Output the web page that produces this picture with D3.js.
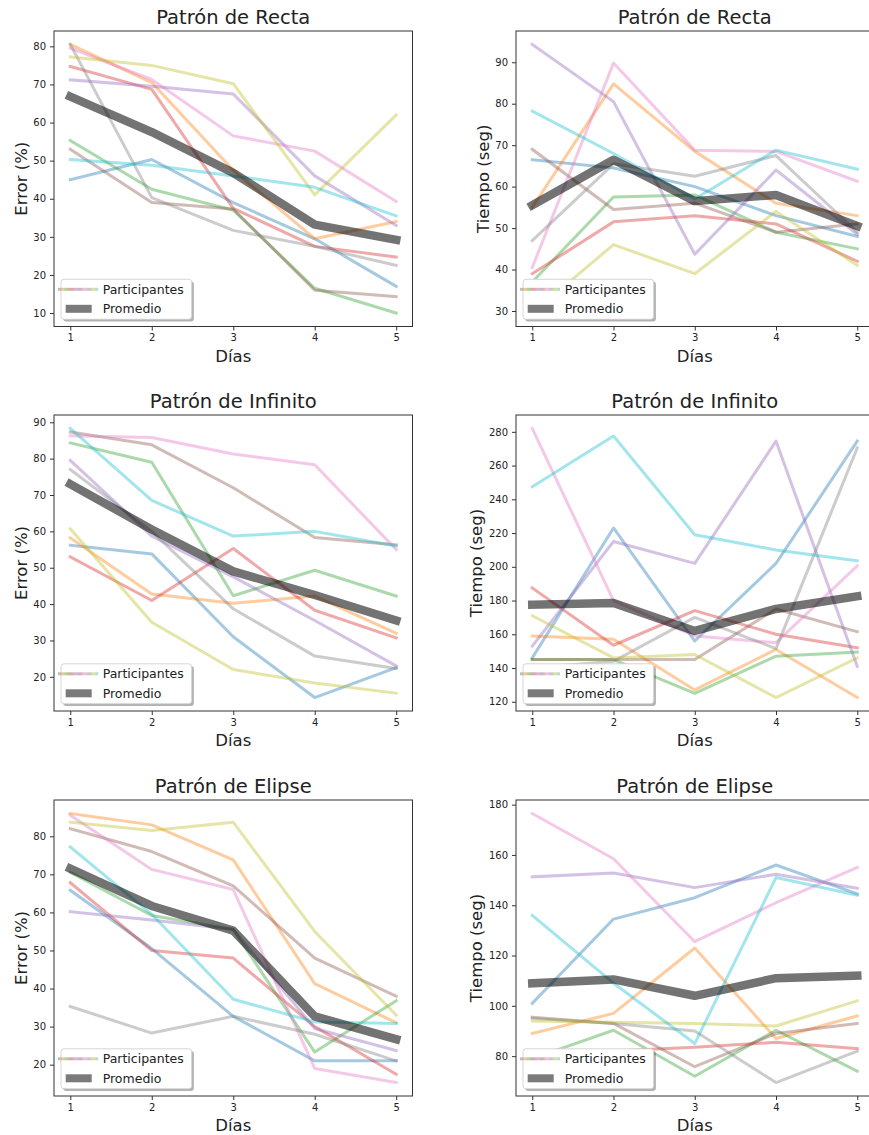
<!DOCTYPE html>
<html>
<head>
<meta charset="utf-8">
<script src="https://cdn.jsdelivr.net/npm/d3@7"></script>
<style>
body { margin: 0; background: #fff; }
svg { display: block; font-family: "DejaVu Sans", sans-serif; }
</style>
</head>
<body>
<div id="chart"></div>
<script>
// days on the x axis
const dias = [1, 2, 3, 4, 5];

// one row per participant (10)
const rectaError = [
  [45, 50.3, 39, 29.5, 17],
  [80.5, 70.5, 47.5, 29.5, 34],
  [55.3, 42.5, 37, 16.5, 10],
  [74.7, 68.7, 37.5, 27.5, 24.7],
  [71.2, 69.5, 67.5, 46, 33],
  [53, 39, 37.3, 16, 14.3],
  [79.5, 71.3, 56.5, 52.5, 39.3],
  [80.5, 40.3, 31.7, 27.5, 22.5],
  [77.2, 75, 70.2, 41, 62],
  [50.3, 48.8, 46, 43, 35.5]
];
const rectaErrorProm = [66.8, 57.5, 46.8, 33.2, 29.2];
const rectaErrorTicks = [10, 20, 30, 40, 50, 60, 70, 80];

const rectaTiempo = [
  [66.5, 64.5, 60, 53, 48],
  [55, 84.8, 68.5, 56, 53],
  [37, 57.5, 58, 49, 45],
  [39, 51.5, 53, 51, 42],
  [94.3, 80.5, 43.7, 64, 48.5],
  [69, 54.5, 56, 49, 51],
  [40.5, 89.8, 68.8, 68.5, 61.3],
  [47, 65.5, 62.5, 67.5, 49],
  [29.5, 46, 39, 54, 41],
  [78.2, 68, 57, 68.8, 64.2]
];
const rectaTiempoProm = [55.5, 66.5, 56.5, 58, 50.5];
const rectaTiempoTicks = [30, 40, 50, 60, 70, 80, 90];

const infinitoError = [
  [56.2, 53.8, 31, 14.3, 22.5],
  [58.2, 42.8, 40.2, 42.2, 32],
  [84.3, 79, 42.3, 49.3, 42.2],
  [53, 41, 55.3, 38.3, 30.7],
  [79.5, 58.7, 47.5, 35.5, 23],
  [87.3, 83.8, 72, 58.3, 56.3],
  [86.3, 85.8, 81.3, 78.3, 55],
  [77, 60, 38.7, 25.7, 22.3],
  [60.7, 35, 22, 18.3, 15.5],
  [88.3, 68.5, 58.7, 60, 56]
];
const infinitoErrorProm = [73, 60.5, 49, 42.5, 35.5];
const infinitoErrorTicks = [20, 30, 40, 50, 60, 70, 80, 90];

const infinitoTiempo = [
  [146, 223, 156, 202, 274.5],
  [159, 157, 127, 151, 122.5],
  [145, 145, 125, 147, 149.5],
  [187.5, 153.5, 174, 160, 152],
  [153, 215, 202, 274.5, 141],
  [145, 145, 145, 175, 161.5],
  [282, 180, 159, 155, 200.5],
  [140, 144, 170, 151.5, 270.5],
  [171, 146, 148, 122.5, 146],
  [247.5, 277.5, 219, 210, 203.5]
];
const infinitoTiempoProm = [177.5, 178.5, 162, 175, 182.5];
const infinitoTiempoTicks = [120, 140, 160, 180, 200, 220, 240, 260, 280];

const elipseError = [
  [65.8, 50.5, 32.7, 21, 21],
  [86, 83, 73.8, 41.3, 31],
  [70.5, 59.2, 55.5, 23.3, 36.8],
  [67.8, 50, 48, 30, 17.5],
  [60.2, 58, 55.5, 29.5, 23.7],
  [82, 76, 67, 48, 38],
  [85.5, 71.3, 66, 19, 15.3],
  [35.3, 28.3, 32.7, 28, 21],
  [83.7, 81.5, 83.7, 55, 33],
  [77.2, 59.5, 37.2, 31.2, 30.8]
];
const elipseErrorProm = [71.5, 61.7, 55.2, 32.7, 26.7];
const elipseErrorTicks = [20, 30, 40, 50, 60, 70, 80];

const elipseTiempo = [
  [101, 134.5, 143, 156, 144.5],
  [89, 97, 123, 87, 96],
  [79, 90.3, 72, 90.3, 74],
  [80, 82, 83.5, 85.5, 83],
  [151.3, 152.8, 147, 152.3, 146.8],
  [95.5, 93, 75.8, 89, 93],
  [176.5, 158.5, 125.5, 141, 155],
  [95, 93, 90, 69.5, 82],
  [94, 93.5, 93, 92, 102],
  [136, 109, 85, 151, 144]
];
const elipseTiempoProm = [109, 110.5, 104, 111, 112];
const elipseTiempoTicks = [80, 100, 120, 140, 160, 180];

const panels = [
  {title: "Patrón de Recta", ylabel: "Error (%)", data: rectaError, prom: rectaErrorProm, ticks: rectaErrorTicks, col: 0, row: 0},
  {title: "Patrón de Recta", ylabel: "Tiempo (seg)", data: rectaTiempo, prom: rectaTiempoProm, ticks: rectaTiempoTicks, col: 1, row: 0},
  {title: "Patrón de Infinito", ylabel: "Error (%)", data: infinitoError, prom: infinitoErrorProm, ticks: infinitoErrorTicks, col: 0, row: 1},
  {title: "Patrón de Infinito", ylabel: "Tiempo (seg)", data: infinitoTiempo, prom: infinitoTiempoProm, ticks: infinitoTiempoTicks, col: 1, row: 1},
  {title: "Patrón de Elipse", ylabel: "Error (%)", data: elipseError, prom: elipseErrorProm, ticks: elipseErrorTicks, col: 0, row: 2},
  {title: "Patrón de Elipse", ylabel: "Tiempo (seg)", data: elipseTiempo, prom: elipseTiempoProm, ticks: elipseTiempoTicks, col: 1, row: 2}
];

const width = 869, height = 1135;
const colX = [[54, 412.5], [516, 873.5]];
const rowY = [[31, 326.5], [415, 711], [800, 1096]];
const colors = d3.schemeCategory10;
const ink = "#222";

const svg = d3.select("#chart")
  .append("svg")
  .attr("width", width)
  .attr("height", height);

// multicolour handle for "Participantes"
const grad = svg.append("defs").append("linearGradient")
  .attr("id", "partGrad");
colors.forEach(function(c, i) {
  grad.append("stop")
    .attr("offset", (i / (colors.length - 1)))
    .attr("stop-color", c);
});

panels.forEach(function(p) {
  const [x0, x1] = colX[p.col];
  const [y0, y1] = rowY[p.row];

  const x = d3.scaleLinear().domain([0.8, 5.2]).range([x0, x1]);

  // matplotlib style 5% margin around the data
  const all = p.data.flat().concat(p.prom);
  const [lo, hi] = d3.extent(all);
  const pad = (hi - lo) * 0.05;
  const y = d3.scaleLinear().domain([lo - pad, hi + pad]).range([y1, y0]);

  const g = svg.append("g");

  const line = d3.line()
    .x(function(d, i) { return x(dias[i]); })
    .y(function(d) { return y(d); });

  // participants
  g.selectAll("path.part")
    .data(p.data)
    .enter()
    .append("path")
    .attr("class", "part")
    .attr("d", line)
    .attr("fill", "none")
    .attr("stroke", function(d, i) { return colors[i]; })
    .attr("stroke-opacity", 0.4)
    .attr("stroke-width", 3)
    .attr("stroke-linejoin", "round")
    .attr("stroke-linecap", "square");

  // average
  g.append("path")
    .attr("d", line(p.prom))
    .attr("fill", "none")
    .attr("stroke", "#000")
    .attr("stroke-opacity", 0.55)
    .attr("stroke-width", 8.5)
    .attr("stroke-linejoin", "round")
    .attr("stroke-linecap", "square");

  // frame
  g.append("rect")
    .attr("x", x0).attr("y", y0)
    .attr("width", x1 - x0).attr("height", y1 - y0)
    .attr("fill", "none")
    .attr("stroke", "#333")
    .attr("stroke-width", 1);

  // axes
  const xAxis = g.append("g")
    .attr("transform", "translate(0," + y1 + ")")
    .call(d3.axisBottom(x).tickValues(dias).tickSize(4).tickPadding(3.5).tickFormat(d3.format("d")));
  const yAxis = g.append("g")
    .attr("transform", "translate(" + x0 + ",0)")
    .call(d3.axisLeft(y).tickValues(p.ticks).tickSize(4).tickPadding(4).tickFormat(d3.format("d")));
  [xAxis, yAxis].forEach(function(a) {
    a.select(".domain").remove();
    a.selectAll("line").attr("stroke", "#333");
    a.selectAll("text")
      .attr("fill", ink)
      .style("font-family", "DejaVu Sans")
      .style("font-size", "10px");
  });

  // labels
  const cx = (x0 + x1) / 2;
  g.append("text")
    .attr("x", cx).attr("y", y0 - 7.5)
    .attr("text-anchor", "middle")
    .attr("fill", ink)
    .style("font-size", "19.5px")
    .text(p.title);

  g.append("text")
    .attr("x", cx).attr("y", y1 + 35)
    .attr("text-anchor", "middle")
    .attr("fill", ink)
    .style("font-size", "16.5px")
    .text("Días");

  const tickBox = yAxis.node().getBBox();
  g.append("text")
    .attr("transform", "translate(" + (x0 + tickBox.x - 6.5) + "," + ((y0 + y1) / 2) + ") rotate(-90)")
    .attr("text-anchor", "middle")
    .attr("fill", ink)
    .style("font-size", "16.5px")
    .text(p.ylabel);

  // legend, lower left with shadow
  const lx = x0 + 7, lw = 130.7, lh = 40, ly = y1 - 7.2 - lh;
  const leg = g.append("g").attr("transform", "translate(" + lx + "," + ly + ")");
  leg.append("rect")
    .attr("x", 2.2).attr("y", 2.2)
    .attr("width", lw).attr("height", lh).attr("rx", 3)
    .attr("fill", "#000").attr("fill-opacity", 0.3);
  leg.append("rect")
    .attr("width", lw).attr("height", lh).attr("rx", 3)
    .attr("fill", "#fff")
    .attr("stroke", "#ccc").attr("stroke-width", 0.8);
  leg.append("rect")
    .attr("x", -3).attr("y", 8.5)
    .attr("width", 40).attr("height", 3)
    .attr("fill", "url(#partGrad)")
    .attr("fill-opacity", 0.45);
  leg.append("rect")
    .attr("x", 4.7).attr("y", 25.5)
    .attr("width", 26).attr("height", 8)
    .attr("fill", "#000").attr("fill-opacity", 0.52);
  leg.selectAll("text.lab")
    .data(["Participantes", "Promedio"])
    .enter()
    .append("text")
    .attr("class", "lab")
    .attr("x", 41.7)
    .attr("y", function(d, i) { return 14.5 + i * 19.5; })
    .attr("fill", ink)
    .style("font-size", "12.5px")
    .text(function(d) { return d; });
});
</script>
</body>
</html>
